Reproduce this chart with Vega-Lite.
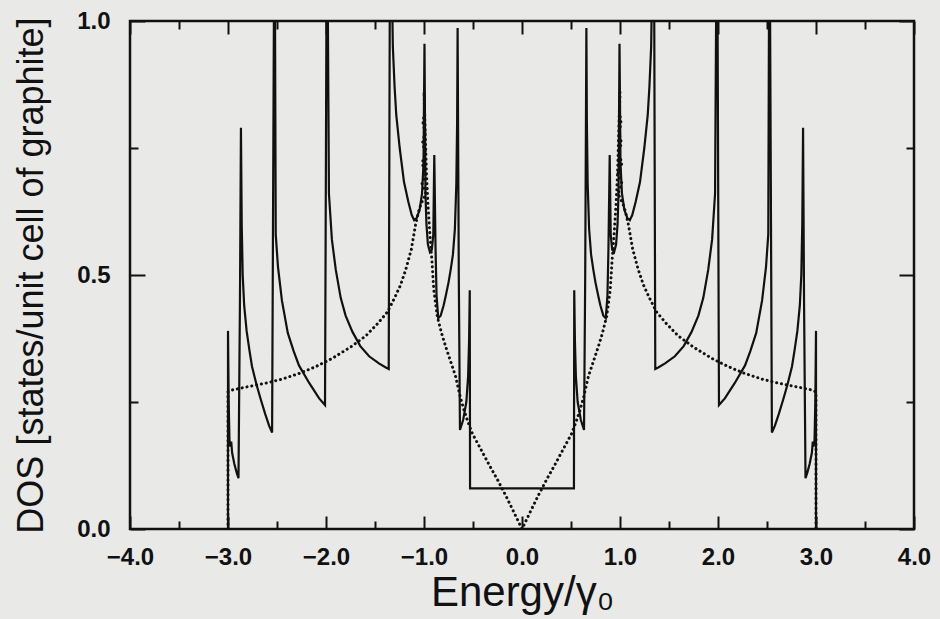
{
  "$schema": "https://vega.github.io/schema/vega-lite/v6.json",
  "width": 784,
  "height": 508,
  "autosize": {"type": "none"},
  "padding": {"left": 130, "top": 21, "right": 26, "bottom": 90},
  "background": "#e9e9e7",
  "config": {
    "view": {"stroke": "#111111", "strokeWidth": 2.5},
    "axis": {
      "domain": false,
      "grid": false,
      "tickColor": "#111111",
      "tickWidth": 2,
      "labelFont": "Liberation Sans",
      "labelFontWeight": "bold",
      "labelFontSize": 24,
      "labelColor": "#111111",
      "titleFont": "Liberation Sans",
      "titleFontWeight": "normal",
      "titleColor": "#111111",
      "labelFlush": false,
      "labelOverlap": false
    }
  },
  "datasets": {
    "solid": [
      {"E": -4.0, "DOS": 0}, {"E": -3.0, "DOS": 0}, {"E": -3.0, "DOS": 0.39}, {"E": -2.993, "DOS": 0.25},
      {"E": -2.985, "DOS": 0.175}, {"E": -2.975, "DOS": 0.162}, {"E": -2.967, "DOS": 0.172}, {"E": -2.958, "DOS": 0.15},
      {"E": -2.935, "DOS": 0.128}, {"E": -2.91, "DOS": 0.11}, {"E": -2.893, "DOS": 0.1}, {"E": -2.878, "DOS": 0.45},
      {"E": -2.868, "DOS": 0.79}, {"E": -2.86, "DOS": 0.6}, {"E": -2.85, "DOS": 0.5}, {"E": -2.835, "DOS": 0.44},
      {"E": -2.81, "DOS": 0.39}, {"E": -2.78, "DOS": 0.35}, {"E": -2.755, "DOS": 0.32}, {"E": -2.71, "DOS": 0.285},
      {"E": -2.667, "DOS": 0.256}, {"E": -2.62, "DOS": 0.226}, {"E": -2.58, "DOS": 0.203}, {"E": -2.55, "DOS": 0.19},
      {"E": -2.525, "DOS": 1.3}, {"E": -2.513, "DOS": 0.58}, {"E": -2.49, "DOS": 0.516}, {"E": -2.45, "DOS": 0.45},
      {"E": -2.39, "DOS": 0.386}, {"E": -2.33, "DOS": 0.35}, {"E": -2.276, "DOS": 0.322}, {"E": -2.17, "DOS": 0.287},
      {"E": -2.07, "DOS": 0.257}, {"E": -2.01, "DOS": 0.244}, {"E": -1.99, "DOS": 1.3}, {"E": -1.97, "DOS": 0.66},
      {"E": -1.94, "DOS": 0.57}, {"E": -1.9, "DOS": 0.51}, {"E": -1.85, "DOS": 0.455}, {"E": -1.8, "DOS": 0.42},
      {"E": -1.73, "DOS": 0.388}, {"E": -1.65, "DOS": 0.36}, {"E": -1.56, "DOS": 0.34}, {"E": -1.46, "DOS": 0.326},
      {"E": -1.39, "DOS": 0.318}, {"E": -1.36, "DOS": 0.315}, {"E": -1.345, "DOS": 1.3}, {"E": -1.318, "DOS": 0.95},
      {"E": -1.3, "DOS": 0.87}, {"E": -1.283, "DOS": 0.815}, {"E": -1.248, "DOS": 0.75}, {"E": -1.204, "DOS": 0.683},
      {"E": -1.16, "DOS": 0.644}, {"E": -1.125, "DOS": 0.618}, {"E": -1.1, "DOS": 0.608}, {"E": -1.075, "DOS": 0.612},
      {"E": -1.045, "DOS": 0.628}, {"E": -1.02, "DOS": 0.66}, {"E": -1.005, "DOS": 0.72}, {"E": -0.995, "DOS": 0.955},
      {"E": -0.985, "DOS": 0.66}, {"E": -0.975, "DOS": 0.6}, {"E": -0.96, "DOS": 0.56}, {"E": -0.94, "DOS": 0.545},
      {"E": -0.92, "DOS": 0.55}, {"E": -0.905, "DOS": 0.58}, {"E": -0.895, "DOS": 0.736}, {"E": -0.882, "DOS": 0.55},
      {"E": -0.872, "DOS": 0.46}, {"E": -0.855, "DOS": 0.415}, {"E": -0.83, "DOS": 0.42}, {"E": -0.8, "DOS": 0.44},
      {"E": -0.78, "DOS": 0.457}, {"E": -0.75, "DOS": 0.485}, {"E": -0.728, "DOS": 0.51}, {"E": -0.705, "DOS": 0.54},
      {"E": -0.685, "DOS": 0.59}, {"E": -0.67, "DOS": 0.68}, {"E": -0.662, "DOS": 0.8}, {"E": -0.657, "DOS": 0.986},
      {"E": -0.645, "DOS": 0.5}, {"E": -0.633, "DOS": 0.195}, {"E": -0.6, "DOS": 0.215}, {"E": -0.568, "DOS": 0.25},
      {"E": -0.55, "DOS": 0.3}, {"E": -0.54, "DOS": 0.37}, {"E": -0.533, "DOS": 0.47}, {"E": -0.53, "DOS": 0.08},
      {"E": 0.53, "DOS": 0.08}, {"E": 0.533, "DOS": 0.47}, {"E": 0.54, "DOS": 0.37}, {"E": 0.55, "DOS": 0.3},
      {"E": 0.568, "DOS": 0.25}, {"E": 0.6, "DOS": 0.215}, {"E": 0.633, "DOS": 0.195}, {"E": 0.645, "DOS": 0.5},
      {"E": 0.657, "DOS": 0.986}, {"E": 0.662, "DOS": 0.8}, {"E": 0.67, "DOS": 0.68}, {"E": 0.685, "DOS": 0.59},
      {"E": 0.705, "DOS": 0.54}, {"E": 0.728, "DOS": 0.51}, {"E": 0.75, "DOS": 0.485}, {"E": 0.78, "DOS": 0.457},
      {"E": 0.8, "DOS": 0.44}, {"E": 0.83, "DOS": 0.42}, {"E": 0.855, "DOS": 0.415}, {"E": 0.872, "DOS": 0.46},
      {"E": 0.882, "DOS": 0.55}, {"E": 0.895, "DOS": 0.736}, {"E": 0.905, "DOS": 0.58}, {"E": 0.92, "DOS": 0.55},
      {"E": 0.94, "DOS": 0.545}, {"E": 0.96, "DOS": 0.56}, {"E": 0.975, "DOS": 0.6}, {"E": 0.985, "DOS": 0.66},
      {"E": 0.995, "DOS": 0.955}, {"E": 1.005, "DOS": 0.72}, {"E": 1.02, "DOS": 0.66}, {"E": 1.045, "DOS": 0.628},
      {"E": 1.075, "DOS": 0.612}, {"E": 1.1, "DOS": 0.608}, {"E": 1.125, "DOS": 0.618}, {"E": 1.16, "DOS": 0.644},
      {"E": 1.204, "DOS": 0.683}, {"E": 1.248, "DOS": 0.75}, {"E": 1.283, "DOS": 0.815}, {"E": 1.3, "DOS": 0.87},
      {"E": 1.318, "DOS": 0.95}, {"E": 1.345, "DOS": 1.3}, {"E": 1.36, "DOS": 0.315}, {"E": 1.39, "DOS": 0.318},
      {"E": 1.46, "DOS": 0.326}, {"E": 1.56, "DOS": 0.34}, {"E": 1.65, "DOS": 0.36}, {"E": 1.73, "DOS": 0.388},
      {"E": 1.8, "DOS": 0.42}, {"E": 1.85, "DOS": 0.455}, {"E": 1.9, "DOS": 0.51}, {"E": 1.94, "DOS": 0.57},
      {"E": 1.97, "DOS": 0.66}, {"E": 1.99, "DOS": 1.3}, {"E": 2.01, "DOS": 0.244}, {"E": 2.07, "DOS": 0.257},
      {"E": 2.17, "DOS": 0.287}, {"E": 2.276, "DOS": 0.322}, {"E": 2.33, "DOS": 0.35}, {"E": 2.39, "DOS": 0.386},
      {"E": 2.45, "DOS": 0.45}, {"E": 2.49, "DOS": 0.516}, {"E": 2.513, "DOS": 0.58}, {"E": 2.525, "DOS": 1.3},
      {"E": 2.55, "DOS": 0.19}, {"E": 2.58, "DOS": 0.203}, {"E": 2.62, "DOS": 0.226}, {"E": 2.667, "DOS": 0.256},
      {"E": 2.71, "DOS": 0.285}, {"E": 2.755, "DOS": 0.32}, {"E": 2.78, "DOS": 0.35}, {"E": 2.81, "DOS": 0.39},
      {"E": 2.835, "DOS": 0.44}, {"E": 2.85, "DOS": 0.5}, {"E": 2.86, "DOS": 0.6}, {"E": 2.868, "DOS": 0.79},
      {"E": 2.878, "DOS": 0.45}, {"E": 2.893, "DOS": 0.1}, {"E": 2.91, "DOS": 0.11}, {"E": 2.935, "DOS": 0.128},
      {"E": 2.958, "DOS": 0.15}, {"E": 2.967, "DOS": 0.172}, {"E": 2.975, "DOS": 0.162}, {"E": 2.985, "DOS": 0.175},
      {"E": 2.993, "DOS": 0.25}, {"E": 3.0, "DOS": 0.39}, {"E": 3.0, "DOS": 0}, {"E": 4.0, "DOS": 0}
    ],
    "dotted": [
      {"E": -3.0, "DOS": 0}, {"E": -3.0, "DOS": 0.27}, {"E": -2.95, "DOS": 0.274}, {"E": -2.8, "DOS": 0.28},
      {"E": -2.615, "DOS": 0.287}, {"E": -2.45, "DOS": 0.295}, {"E": -2.276, "DOS": 0.306}, {"E": -2.1, "DOS": 0.32},
      {"E": -1.936, "DOS": 0.336}, {"E": -1.75, "DOS": 0.358}, {"E": -1.595, "DOS": 0.38}, {"E": -1.47, "DOS": 0.405},
      {"E": -1.374, "DOS": 0.427}, {"E": -1.3, "DOS": 0.455}, {"E": -1.24, "DOS": 0.48}, {"E": -1.187, "DOS": 0.51},
      {"E": -1.13, "DOS": 0.55}, {"E": -1.085, "DOS": 0.6}, {"E": -1.055, "DOS": 0.625}, {"E": -1.03, "DOS": 0.64},
      {"E": -0.98, "DOS": 0.66}, {"E": -1.02, "DOS": 0.68}, {"E": -0.98, "DOS": 0.7}, {"E": -1.02, "DOS": 0.72},
      {"E": -0.985, "DOS": 0.74}, {"E": -1.015, "DOS": 0.76}, {"E": -0.99, "DOS": 0.78}, {"E": -1.01, "DOS": 0.8},
      {"E": -0.995, "DOS": 0.82}, {"E": -1.0, "DOS": 0.86}, {"E": -0.99, "DOS": 0.8}, {"E": -0.975, "DOS": 0.7},
      {"E": -0.96, "DOS": 0.64}, {"E": -0.94, "DOS": 0.58}, {"E": -0.92, "DOS": 0.53}, {"E": -0.9, "DOS": 0.47},
      {"E": -0.864, "DOS": 0.418}, {"E": -0.82, "DOS": 0.385}, {"E": -0.779, "DOS": 0.359}, {"E": -0.72, "DOS": 0.325},
      {"E": -0.677, "DOS": 0.3}, {"E": -0.63, "DOS": 0.26}, {"E": -0.592, "DOS": 0.234}, {"E": -0.55, "DOS": 0.21},
      {"E": -0.507, "DOS": 0.188}, {"E": -0.42, "DOS": 0.157}, {"E": -0.337, "DOS": 0.127}, {"E": -0.25, "DOS": 0.097},
      {"E": -0.166, "DOS": 0.066}, {"E": -0.08, "DOS": 0.032}, {"E": 0, "DOS": 0},
      {"E": 0.08, "DOS": 0.032}, {"E": 0.166, "DOS": 0.066}, {"E": 0.25, "DOS": 0.097}, {"E": 0.337, "DOS": 0.127},
      {"E": 0.42, "DOS": 0.157}, {"E": 0.507, "DOS": 0.188}, {"E": 0.55, "DOS": 0.21}, {"E": 0.592, "DOS": 0.234},
      {"E": 0.63, "DOS": 0.26}, {"E": 0.677, "DOS": 0.3}, {"E": 0.72, "DOS": 0.325}, {"E": 0.779, "DOS": 0.359},
      {"E": 0.82, "DOS": 0.385}, {"E": 0.864, "DOS": 0.418}, {"E": 0.9, "DOS": 0.47}, {"E": 0.92, "DOS": 0.53},
      {"E": 0.94, "DOS": 0.58}, {"E": 0.96, "DOS": 0.64}, {"E": 0.975, "DOS": 0.7}, {"E": 0.99, "DOS": 0.8},
      {"E": 1.0, "DOS": 0.86}, {"E": 0.995, "DOS": 0.82}, {"E": 1.01, "DOS": 0.8}, {"E": 0.99, "DOS": 0.78},
      {"E": 1.015, "DOS": 0.76}, {"E": 0.985, "DOS": 0.74}, {"E": 1.02, "DOS": 0.72}, {"E": 0.98, "DOS": 0.7},
      {"E": 1.02, "DOS": 0.68}, {"E": 0.98, "DOS": 0.66}, {"E": 1.03, "DOS": 0.64}, {"E": 1.055, "DOS": 0.625},
      {"E": 1.085, "DOS": 0.6}, {"E": 1.13, "DOS": 0.55}, {"E": 1.187, "DOS": 0.51}, {"E": 1.24, "DOS": 0.48},
      {"E": 1.3, "DOS": 0.455}, {"E": 1.374, "DOS": 0.427}, {"E": 1.47, "DOS": 0.405}, {"E": 1.595, "DOS": 0.38},
      {"E": 1.75, "DOS": 0.358}, {"E": 1.936, "DOS": 0.336}, {"E": 2.1, "DOS": 0.32}, {"E": 2.276, "DOS": 0.306},
      {"E": 2.45, "DOS": 0.295}, {"E": 2.615, "DOS": 0.287}, {"E": 2.8, "DOS": 0.28}, {"E": 2.95, "DOS": 0.274},
      {"E": 3.0, "DOS": 0.27}, {"E": 3.0, "DOS": 0}
    ]
  },
  "layer": [
    {
      "data": {"name": "solid"},
      "mark": {"type": "line", "color": "#111111", "strokeWidth": 2.2, "clip": true},
      "encoding": {
        "x": {
          "field": "E", "type": "quantitative",
          "scale": {"domain": [-4, 4], "nice": false, "zero": false},
          "axis": {
            "orient": "bottom",
            "values": [-4, -3.5, -3, -2.5, -2, -1.5, -1, -0.5, 0, 0.5, 1, 1.5, 2, 2.5, 3, 3.5, 4],
            "labelExpr": "datum.value % 1 === 0 ? format(datum.value, '.1f') : ''",
            "tickSize": {"condition": {"test": "datum.value % 1 === 0", "value": -13}, "value": -8},
            "labelPadding": 29,
            "title": "Energy/γ₀",
            "titleFontSize": 42,
            "titlePadding": -2
          }
        },
        "y": {
          "field": "DOS", "type": "quantitative",
          "scale": {"domain": [0, 1], "nice": false, "zero": false},
          "axis": {
            "orient": "left",
            "values": [0, 0.25, 0.5, 0.75, 1],
            "labelExpr": "datum.value % 0.5 === 0 ? format(datum.value, '.1f') : ''",
            "tickSize": {"condition": {"test": "datum.value % 0.5 === 0", "value": -15}, "value": -8},
            "labelPadding": 35,
            "title": "DOS [states/unit cell of graphite]",
            "titleFontSize": 36,
            "titlePadding": 26
          }
        },
        "order": {"value": null}
      }
    },
    {
      "data": {"name": "dotted"},
      "mark": {"type": "line", "color": "#111111", "strokeWidth": 3, "strokeDash": [0.1, 4.8], "strokeCap": "round", "clip": true},
      "encoding": {
        "x": {
          "field": "E", "type": "quantitative",
          "axis": {
            "orient": "top",
            "values": [-4, -3.5, -3, -2.5, -2, -1.5, -1, -0.5, 0, 0.5, 1, 1.5, 2, 2.5, 3, 3.5, 4],
            "labels": false,
            "title": null,
            "tickSize": {"condition": {"test": "datum.value % 1 === 0", "value": -13}, "value": -8}
          }
        },
        "y": {
          "field": "DOS", "type": "quantitative",
          "axis": {
            "orient": "right",
            "values": [0, 0.25, 0.5, 0.75, 1],
            "labels": false,
            "title": null,
            "tickSize": {"condition": {"test": "datum.value % 0.5 === 0", "value": -15}, "value": -8}
          }
        },
        "order": {"value": null}
      }
    }
  ],
  "resolve": {"axis": {"x": "independent", "y": "independent"}}
}
